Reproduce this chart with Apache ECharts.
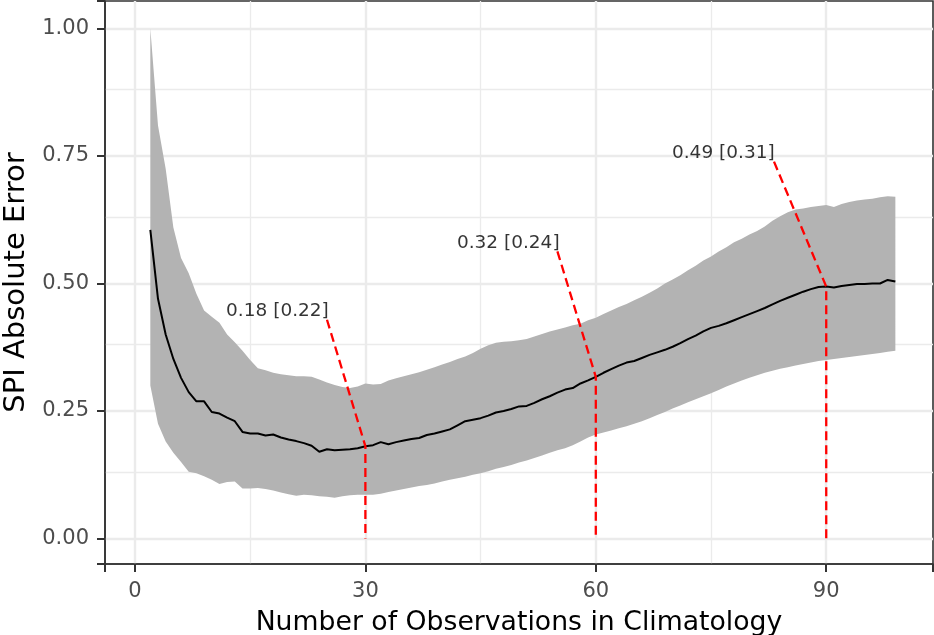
<!DOCTYPE html>
<html><head><meta charset="utf-8">
<script src="https://cdn.jsdelivr.net/npm/echarts@6/dist/echarts.min.js"></script>
<style>html,body{margin:0;padding:0;background:#fff}#c{width:934px;height:635px}</style>
</head><body><div id="c"></div>
<script>
const obs = [2,3,4,5,6,7,8,9,10,11,
  12,13,14,15,16,17,18,19,20,21,
  22,23,24,25,26,27,28,29,30,31,
  32,33,34,35,36,37,38,39,40,41,
  42,43,44,45,46,47,48,49,50,51,
  52,53,54,55,56,57,58,59,60,61,
  62,63,64,65,66,67,68,69,70,71,
  72,73,74,75,76,77,78,79,80,81,
  82,83,84,85,86,87,88,89,90,91,
  92,93,94,95,96,97,98,99];
const meanErr = [.605,.470,.400,.352,.315,.287,.269,.269,.248,.245,
  .237,.230,.209,.206,.206,.202,.204,.198,.194,.191,
  .187,.182,.170,.175,.173,.174,.175,.177,.181,.183,
  .189,.185,.189,.192,.195,.197,.203,.206,.210,.214,
  .222,.230,.233,.236,.241,.247,.250,.254,.259,.260,
  .266,.273,.279,.286,.292,.295,.304,.310,.317,.325,
  .332,.339,.345,.348,.354,.360,.365,.370,.376,.383,
  .391,.398,.406,.413,.417,.422,.428,.434,.440,.446,
  .452,.459,.466,.472,.478,.484,.489,.493,.494,.492,
  .495,.497,.499,.499,.500,.500,.507,.504];
const upperErr = [1.000,.810,.725,.610,.550,.520,.480,.447,.435,.423,
  .400,.385,.368,.350,.334,.330,.325,.322,.320,.318,
  .318,.317,.312,.306,.301,.297,.295,.298,.304,.302,
  .303,.310,.314,.318,.322,.326,.331,.336,.341,.346,
  .352,.357,.364,.372,.379,.384,.386,.387,.389,.391,
  .396,.401,.406,.410,.414,.418,.421,.428,.433,.440,
  .447,.454,.460,.467,.474,.482,.490,.500,.508,.516,
  .526,.535,.545,.553,.563,.571,.581,.588,.596,.603,
  .612,.623,.632,.640,.645,.647,.650,.652,.654,.650,
  .656,.660,.663,.665,.666,.669,.671,.670];
const lowerErr = [.300,.225,.190,.168,.150,.131,.128,.122,.115,.107,
  .111,.112,.098,.098,.099,.097,.094,.090,.087,.084,
  .086,.085,.083,.082,.080,.083,.085,.086,.086,.086,
  .088,.091,.094,.097,.100,.103,.105,.108,.112,.115,
  .118,.121,.125,.128,.132,.137,.140,.144,.149,.153,
  .158,.163,.168,.173,.177,.183,.190,.198,.204,.208,
  .212,.216,.220,.225,.230,.236,.242,.248,.255,.261,
  .267,.273,.279,.285,.291,.298,.304,.310,.315,.320,
  .325,.329,.333,.336,.339,.342,.345,.348,.350,.352,
  .354,.356,.358,.360,.362,.364,.366,.368];

const xTicks = [0, 30, 60, 90];
const xTickLabels = ['0', '30', '60', '90'];
const yTicks = [0, 0.25, 0.5, 0.75, 1];
const yTickLabels = ['0.00', '0.25', '0.50', '0.75', '1.00'];
const xMinorGrid = [15, 45, 75];
const yMinorGrid = [0.125, 0.375, 0.625, 0.875];

const annoText = ['0.18 [0.22]', '0.32 [0.24]', '0.49 [0.31]'];
const annoLabelX = [18.55, 48.6, 76.6];
const annoLabelY = [0.446, 0.579, 0.755];
const annoStartX = [25.0, 55.0, 83.2];
const annoStartY = [0.429, 0.563, 0.739];
const annoPointX = [30, 60, 90];
const annoPointY = [0.181, 0.317, 0.494];

const X_MIN = -3.9, X_MAX = 103.9, Y_MIN = -0.05, Y_MAX = 1.054;
const Y_TICK_STEP = 0.25;
const FONT = 'DejaVu Sans';
const chart = echarts.init(document.getElementById('c'), null, {renderer: 'canvas'});

const gridLines = [];
xTicks.forEach(v => gridLines.push({xAxis: v, lineStyle: {width: 2.4}}));
yTicks.forEach(v => gridLines.push({yAxis: v, lineStyle: {width: 2.4}}));
xMinorGrid.forEach(v => gridLines.push({xAxis: v, lineStyle: {width: 1.3}}));
yMinorGrid.forEach(v => gridLines.push({yAxis: v, lineStyle: {width: 1.3}}));

const series = [
  {
    type: 'line', name: 'grid', silent: true, z: 0,
    data: [],
    markLine: {
      silent: true, symbol: ['none', 'none'], animation: false, z: 0,
      label: {show: false},
      lineStyle: {type: 'solid', color: '#EBEBEB'},
      emphasis: {disabled: true},
      data: gridLines
    }
  },
  {
    type: 'custom', name: 'band', silent: true, z: 2,
    data: [[obs[0], upperErr[0]]],
    renderItem: function (params, api) {
      const pts = [];
      for (let i = 0; i < obs.length; i++) pts.push(api.coord([obs[i], upperErr[i]]));
      for (let i = obs.length - 1; i >= 0; i--) pts.push(api.coord([obs[i], lowerErr[i]]));
      return {type: 'polygon', shape: {points: pts}, style: {fill: '#B3B3B3', stroke: null}};
    }
  },
  {
    type: 'line', name: 'mean', silent: true, z: 3,
    data: obs.map((x, i) => [x, meanErr[i]]),
    symbol: 'none', lineStyle: {color: '#000000', width: 2}
  }
];
annoText.forEach((t, k) => {
  series.push({
    type: 'line', silent: true, z: 4,
    data: [[annoStartX[k], annoStartY[k]], [annoPointX[k], annoPointY[k]], [annoPointX[k], 0]],
    symbol: 'none', lineStyle: {color: '#FF0000', width: 2.3, type: [9, 5]}
  });
});
series.push({
  type: 'scatter', silent: true, z: 5, symbolSize: 0,
  data: annoText.map((t, k) => ({name: t, value: [annoLabelX[k], annoLabelY[k]]})),
  label: {show: true, position: 'inside', formatter: '{b}', fontFamily: FONT, fontSize: 18.5, color: '#000000'}
});

chart.setOption({
  animation: false,
  backgroundColor: '#ffffff',
  grid: {left: 105, right: 1, top: 1, bottom: 71, containLabel: false, outerBoundsMode: 'none',
    show: true, borderColor: '#333333', borderWidth: 1.6, backgroundColor: '#ffffff'},
  xAxis: {
    type: 'value', min: X_MIN, max: X_MAX, splitNumber: 4,
    axisLine: {show: true, onZero: false, lineStyle: {color: '#333333', width: 1.6}},
    axisTick: {show: true, inside: false, length: 8, lineStyle: {color: '#333333', width: 2}},
    axisLabel: {customValues: xTicks, fontFamily: FONT, fontSize: 21, color: '#4D4D4D', margin: 17,
      formatter: v => xTickLabels[xTicks.indexOf(v)]},
    splitLine: {show: false},
    name: 'Number of Observations in Climatology', nameLocation: 'middle', nameGap: 46,
    nameTextStyle: {fontFamily: FONT, fontSize: 26.7, color: '#000000'}
  },
  yAxis: [
    {
      type: 'value', min: Y_MIN, max: Y_MAX, position: 'left',
      axisLine: {show: true, onZero: false, lineStyle: {color: '#333333', width: 1.6}},
      axisTick: {show: false},
      axisLabel: {customValues: yTicks, fontFamily: FONT, fontSize: 21, color: '#4D4D4D', margin: 16,
        formatter: v => yTickLabels[yTicks.indexOf(v)]},
      splitLine: {show: false},
      name: 'SPI Absolute Error', nameLocation: 'middle', nameGap: 71, nameRotate: 90,
      nameTextStyle: {fontFamily: FONT, fontSize: 29, color: '#000000'}
    },
    {
      // tick-only companion axis, same scale expressed in units of one tick step
      type: 'value', min: Y_MIN / Y_TICK_STEP, max: Y_MAX / Y_TICK_STEP, splitNumber: 4,
      position: 'left', offset: 0,
      axisLine: {show: false, onZero: false},
      axisTick: {show: true, inside: false, length: 8, lineStyle: {color: '#333333', width: 2}},
      axisLabel: {show: false},
      splitLine: {show: false}
    }
  ],
  series: series
});
</script></body></html>
